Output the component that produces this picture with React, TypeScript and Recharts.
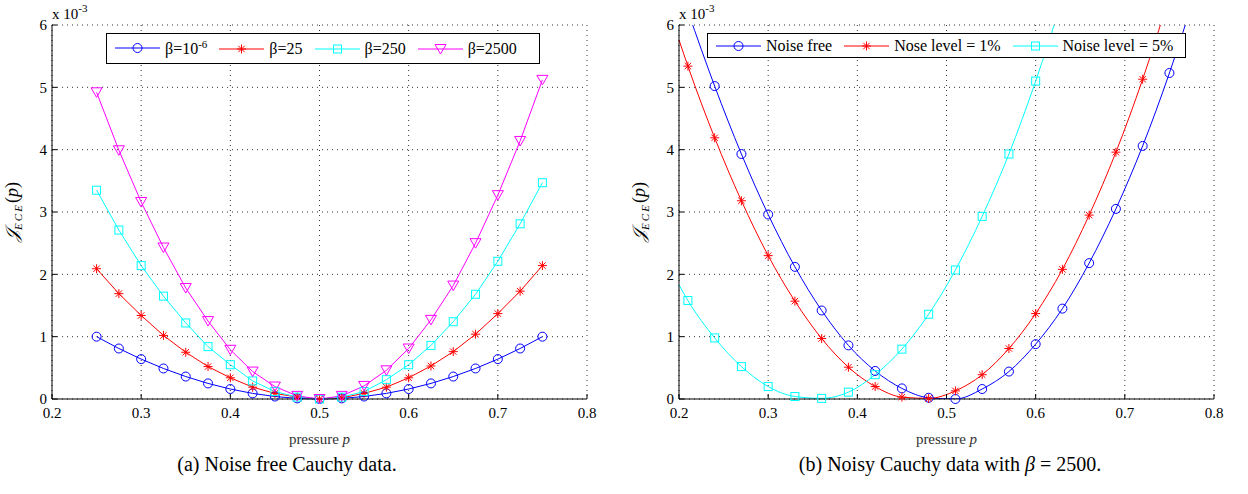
import { LineChart, Line, XAxis, YAxis, CartesianGrid } from "recharts";

const serif = "'Liberation Serif', 'Times New Roman', serif";

// (a) noise free, markers every 0.025
const pressureA = [
  0.25, 0.275, 0.3, 0.325, 0.35, 0.375, 0.4, 0.425, 0.45, 0.475, 0.5, 0.525,
  0.55, 0.575, 0.6, 0.625, 0.65, 0.675, 0.7, 0.725, 0.75,
];
const betaTiny = [
  1.0, 0.81, 0.64, 0.49, 0.36, 0.25, 0.16, 0.09, 0.04, 0.01, 0.0, 0.01, 0.04,
  0.09, 0.16, 0.25, 0.36, 0.49, 0.64, 0.81, 1.0,
];
const beta25 = [
  2.09, 1.69, 1.34, 1.02, 0.75, 0.52, 0.34, 0.19, 0.09, 0.03, 0.0, 0.02, 0.09,
  0.19, 0.34, 0.53, 0.76, 1.04, 1.37, 1.73, 2.14,
];
const beta250 = [
  3.35, 2.71, 2.14, 1.65, 1.22, 0.84, 0.55, 0.29, 0.12, 0.03, 0.0, 0.03, 0.12,
  0.31, 0.55, 0.86, 1.24, 1.68, 2.21, 2.81, 3.47,
];
const beta2500 = [
  4.92, 3.99, 3.16, 2.43, 1.78, 1.25, 0.79, 0.44, 0.2, 0.05, 0.0, 0.05, 0.21,
  0.46, 0.81, 1.27, 1.82, 2.5, 3.27, 4.14, 5.12,
];

// (b) noisy data, beta = 2500 (first point has no marker)
const pressureB = [
  0.2, 0.21, 0.24, 0.27, 0.3, 0.33, 0.36, 0.39, 0.42, 0.45, 0.48, 0.51, 0.54,
  0.57, 0.6, 0.63, 0.66, 0.69, 0.72, 0.75, 0.78,
];
const noiseFree = [
  null, 6.22, 5.02, 3.93, 2.96, 2.12, 1.42, 0.86, 0.45, 0.17, 0.02, 0.0, 0.16,
  0.44, 0.88, 1.45, 2.18, 3.05, 4.06, 5.23, 6.55,
];
const noise1 = [
  5.76, 5.34, 4.19, 3.18, 2.3, 1.57, 0.97, 0.51, 0.2, 0.03, 0.01, 0.13, 0.39,
  0.81, 1.37, 2.08, 2.95, 3.96, 5.13, 6.46, null,
];
const noise5 = [
  1.83, 1.58, 0.98, 0.52, 0.2, 0.04, 0.01, 0.11, 0.39, 0.8, 1.36, 2.07, 2.93,
  3.93, 5.1, 6.42, null, null, null, null, null,
];

const xTicks = [0.2, 0.3, 0.4, 0.5, 0.6, 0.7, 0.8];
const yTicks = [0, 1, 2, 3, 4, 5, 6];

type MarkerKind = "circle" | "star" | "square" | "tri";

const seriesA = [
  { key: "a1", label: "β=10", sup: "-6", color: "#0000ff", marker: "circle" as MarkerKind, values: betaTiny },
  { key: "a2", label: "β=25", sup: "", color: "#ff0000", marker: "star" as MarkerKind, values: beta25 },
  { key: "a3", label: "β=250", sup: "", color: "#00ffff", marker: "square" as MarkerKind, values: beta250 },
  { key: "a4", label: "β=2500", sup: "", color: "#ff00ff", marker: "tri" as MarkerKind, values: beta2500 },
];

const seriesB = [
  { key: "b1", label: "Noise free", sup: "", color: "#0000ff", marker: "circle" as MarkerKind, values: noiseFree },
  { key: "b2", label: "Nose level = 1%", sup: "", color: "#ff0000", marker: "star" as MarkerKind, values: noise1 },
  { key: "b3", label: "Noise level = 5%", sup: "", color: "#00ffff", marker: "square" as MarkerKind, values: noise5 },
];

const rowsA = pressureA.map((p, i) => {
  const row: Record<string, number> = { p };
  seriesA.forEach((s) => (row[s.key] = s.values[i]));
  return row;
});

// markers only where the point is inside the box and not the 0.2 start point
const rowsB = pressureB.map((p, i) => {
  const row: Record<string, number | null> = { p };
  seriesB.forEach((s) => {
    const v = s.values[i];
    row[s.key] = v;
    row[s.key + "m"] = i === 0 || v == null || v > 6 ? null : v;
  });
  return row;
});

function Marker({ kind, x, y, color }: { kind: MarkerKind; x: number; y: number; color: string }) {
  if (kind === "circle") {
    return <circle cx={x} cy={y} r={4.5} fill="none" stroke={color} strokeWidth={1} />;
  }
  if (kind === "square") {
    return <rect x={x - 4} y={y - 4} width={8} height={8} fill="none" stroke={color} strokeWidth={1} />;
  }
  if (kind === "star") {
    const d = `M${x - 4.5},${y}H${x + 4.5}M${x},${y - 4.5}V${y + 4.5}M${x - 3.2},${y - 3.2}L${x + 3.2},${y + 3.2}M${x - 3.2},${y + 3.2}L${x + 3.2},${y - 3.2}`;
    return <path d={d} fill="none" stroke={color} strokeWidth={1} />;
  }
  const d = `M${x - 5.5},${y - 4.5}H${x + 5.5}L${x},${y + 5}Z`;
  return <path d={d} fill="none" stroke={color} strokeWidth={1} />;
}

const dotFor = (kind: MarkerKind, color: string) => (props: any) => {
  const { cx, cy, index } = props;
  const k = `${kind}-${index}`;
  if (cx == null || cy == null || Number.isNaN(cx) || Number.isNaN(cy)) return <g key={k} />;
  return (
    <g key={k}>
      <Marker kind={kind} x={cx} y={cy} color={color} />
    </g>
  );
};

const tickStyle = { fill: "#000", fontSize: 15, fontFamily: serif };
const axisStroke = { stroke: "#000", strokeWidth: 1 };

function LegendBox({ items, left, width, height }: { items: typeof seriesA; left: number; width: number; height: number }) {
  return (
    <div
      style={{
        position: "absolute",
        left,
        top: 33,
        width,
        height,
        boxSizing: "border-box",
        border: "1px solid #000",
        background: "#fff",
        display: "flex",
        alignItems: "center",
        paddingLeft: 8,
        gap: 12,
        fontFamily: serif,
        fontSize: 16,
        color: "#000",
      }}
    >
      {items.map((s) => (
        <div key={s.key} style={{ display: "flex", alignItems: "center" }}>
          <svg width={45} height={14}>
            <line x1={0} y1={7} x2={45} y2={7} stroke={s.color} strokeWidth={1} />
            <Marker kind={s.marker} x={22.5} y={7} color={s.color} />
          </svg>
          <span style={{ marginLeft: 5, whiteSpace: "pre" }}>
            {s.label}
            {s.sup && <sup style={{ fontSize: 11, verticalAlign: "0.55em" }}>{s.sup}</sup>}
          </span>
        </div>
      ))}
    </div>
  );
}

function scaleNote(x: number) {
  return (
    <text x={x} y={19} fontFamily={serif} fontSize={15} fill="#000">
      x 10
      <tspan fontSize={11} dy={-7}>
        -3
      </tspan>
    </text>
  );
}

function yTitle(x: number) {
  return () => (
    <g>
      <text
        transform={`translate(${x},212) rotate(-90)`}
        textAnchor="middle"
        fontFamily={serif}
        fontSize={18}
        fill="#000"
      >
        <tspan fontFamily="'DejaVu Serif', serif" fontStyle="italic">
          𝒥
        </tspan>
        <tspan fontSize={11} dy={4} fontStyle="italic" letterSpacing={2}>
          ECE
        </tspan>
        <tspan dy={-4}>(</tspan>
        <tspan fontStyle="italic">p</tspan>
        <tspan>)</tspan>
      </text>
      {scaleNote(x + 34)}
    </g>
  );
}

function xTitle(cx: number, capX: number, caption: React.ReactNode) {
  return () => (
    <g>
      <text x={cx} y={444} textAnchor="middle" fontFamily={serif} fontSize={15} fill="#333">
        pressure <tspan fontStyle="italic">p</tspan>
      </text>
      <text x={capX} y={471} textAnchor="middle" fontFamily={serif} fontSize={20} fill="#000">
        {caption}
      </text>
    </g>
  );
}

function frameAxes() {
  return [
    <XAxis
      key="xt"
      xAxisId="top"
      orientation="top"
      type="number"
      domain={[0.2, 0.8]}
      ticks={xTicks}
      height={0}
      tick={false}
      tickSize={-5}
      axisLine={axisStroke}
      tickLine={axisStroke}
    />,
    <YAxis
      key="yr"
      yAxisId="right"
      orientation="right"
      type="number"
      domain={[0, 6]}
      ticks={yTicks}
      width={0}
      tick={false}
      tickSize={-5}
      axisLine={axisStroke}
      tickLine={axisStroke}
    />,
  ];
}

export default function App() {
  return (
    <div style={{ position: "absolute", left: 0, top: 0, width: 1248, height: 494, background: "#fff" }}>
      <div style={{ position: "absolute", left: 0, top: 0 }}>
        <LineChart width={624} height={494} data={rowsA} margin={{ top: 25, right: 37, bottom: 65, left: 12 }}>
          <CartesianGrid stroke="#333" strokeDasharray="1 4" />
          <XAxis
            dataKey="p"
            type="number"
            domain={[0.2, 0.8]}
            ticks={xTicks}
            interval={0}
            height={30}
            tick={tickStyle}
            tickSize={-5}
            tickMargin={13}
            axisLine={axisStroke}
            tickLine={axisStroke}
            label={xTitle(319.5, 287, "(a) Noise free Cauchy data.")}
          />
          <YAxis
            type="number"
            domain={[0, 6]}
            ticks={yTicks}
            interval={0}
            width={40}
            tick={tickStyle}
            tickSize={-5}
            tickMargin={10}
            axisLine={axisStroke}
            tickLine={axisStroke}
            label={yTitle(18)}
          />
          {frameAxes()}
          {seriesA.map((s) => (
            <Line
              key={s.key}
              dataKey={s.key}
              type="linear"
              stroke={s.color}
              strokeWidth={1}
              dot={dotFor(s.marker, s.color)}
              activeDot={false}
              isAnimationActive={false}
            />
          ))}
        </LineChart>
      </div>
      <div style={{ position: "absolute", left: 624, top: 0 }}>
        <LineChart width={624} height={494} data={rowsB} margin={{ top: 25, right: 34, bottom: 65, left: 15 }}>
          <CartesianGrid stroke="#333" strokeDasharray="1 4" />
          <XAxis
            dataKey="p"
            type="number"
            domain={[0.2, 0.8]}
            ticks={xTicks}
            interval={0}
            height={30}
            tick={tickStyle}
            tickSize={-5}
            tickMargin={13}
            axisLine={axisStroke}
            tickLine={axisStroke}
            label={xTitle(322.5, 326, <>(b) Noisy Cauchy data with <tspan fontStyle="italic">β</tspan> = 2500.</>)}
          />
          <YAxis
            type="number"
            domain={[0, 6]}
            ticks={yTicks}
            interval={0}
            allowDataOverflow
            width={40}
            tick={tickStyle}
            tickSize={-5}
            tickMargin={10}
            axisLine={axisStroke}
            tickLine={axisStroke}
            label={yTitle(21)}
          />
          <YAxis yAxisId="m" type="number" domain={[0, 6]} hide />
          {frameAxes()}
          {seriesB.map((s) => (
            <Line
              key={s.key}
              dataKey={s.key}
              type="monotoneX"
              stroke={s.color}
              strokeWidth={1}
              dot={false}
              activeDot={false}
              isAnimationActive={false}
            />
          ))}
          {seriesB.map((s) => (
            <Line
              key={s.key + "m"}
              yAxisId="m"
              dataKey={s.key + "m"}
              stroke="none"
              dot={dotFor(s.marker, s.color)}
              activeDot={false}
              isAnimationActive={false}
            />
          ))}
        </LineChart>
      </div>
      <LegendBox items={seriesA} left={106} width={434} height={31} />
      <LegendBox items={seriesB} left={707} width={479} height={25} />
    </div>
  );
}
